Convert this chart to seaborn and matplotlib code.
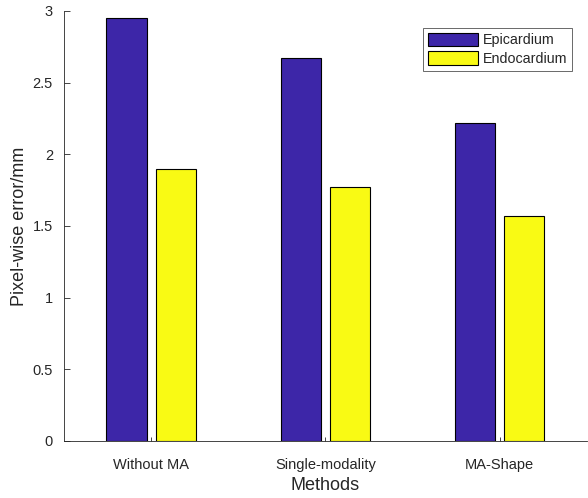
import matplotlib
matplotlib.use("Agg")
import matplotlib.pyplot as plt
import seaborn as sns
import pandas as pd

methods = ["Without MA", "Single-modality", "MA-Shape"]
epicardium = [2.95, 2.67, 2.22]
endocardium = [1.90, 1.77, 1.57]
series_names = ["Epicardium", "Endocardium"]
colors = ["#3D26A8", "#F9FA14"]

df = pd.DataFrame({
    "Methods": methods * 2,
    "value": epicardium + endocardium,
    "series": [series_names[0]] * 3 + [series_names[1]] * 3,
})

sns.set_style("white")
plt.rcParams["font.family"] = ["Liberation Sans", "DejaVu Sans"]

fig = plt.figure(figsize=(5.88, 4.98), dpi=100)
ax = fig.add_axes([0.109, 0.1145, 0.889, 0.8635])
sns.barplot(data=df, x="Methods", y="value", hue="series", order=methods,
            hue_order=series_names, palette=colors, width=0.568, gap=0.19,
            edgecolor="black", linewidth=0.8, ax=ax, saturation=1)

ax.set_xlim(-0.5, 2.5)
ax.set_ylim(0, 3)
ax.set_yticks([0, 0.5, 1, 1.5, 2, 2.5, 3])
ax.set_yticklabels(["0", "0.5", "1", "1.5", "2", "2.5", "3"])
ax.set_xlabel("Methods", fontsize=13, color="#262626", labelpad=4)
ax.set_ylabel("Pixel-wise error/mm", fontsize=13, color="#262626", labelpad=3)
ax.tick_params(axis="both", direction="in", length=4, width=0.6, colors="#262626",
               labelsize=10.5, labelcolor="#262626")
ax.tick_params(axis="y", left=True, pad=8)
ax.tick_params(axis="x", bottom=True, length=3, pad=12)
for side in ["top", "right"]:
    ax.spines[side].set_visible(False)
for side in ["left", "bottom"]:
    ax.spines[side].set_color("#262626")
    ax.spines[side].set_linewidth(0.6)

leg = ax.legend(loc="upper right", bbox_to_anchor=(0.986, 0.978), fontsize=10.3,
                frameon=True, fancybox=False, edgecolor="#262626",
                handlelength=3.5, handleheight=1.1, borderpad=0.35,
                labelspacing=0.25, handletextpad=0.35)
leg.get_frame().set_linewidth(0.6)

fig.savefig("out.png", dpi=100)
